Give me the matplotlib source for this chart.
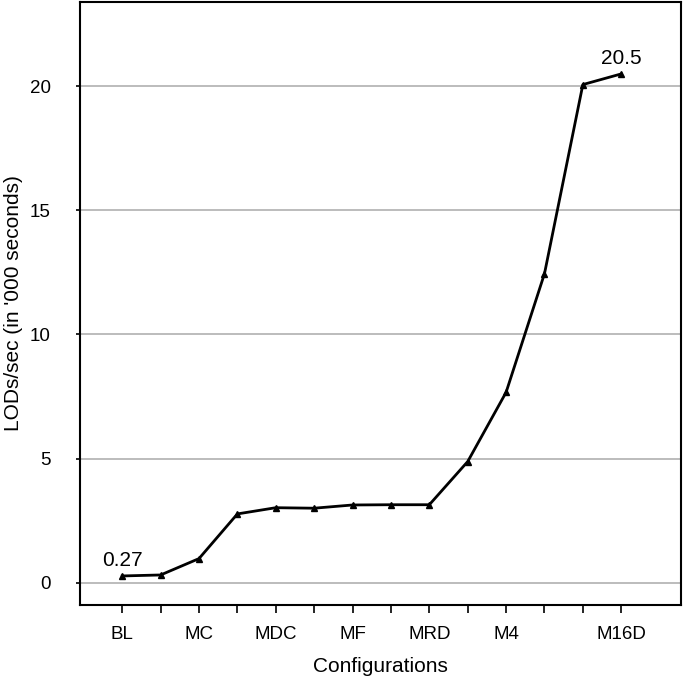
import matplotlib
matplotlib.use('Agg')
import matplotlib.pyplot as plt

# LODs/sec per configuration
positions = list(range(14))
lods = [0.27, 0.31, 0.97, 2.77, 3.02, 3.0, 3.13, 3.14, 3.14, 4.88, 7.67, 12.45, 20.07, 20.5]
tick_labels = ['BL', '', 'MC', '', 'MDC', '', 'MF', '', 'MRD', '', 'M4', '', '', 'M16D']

plt.rcParams['font.family'] = ['Liberation Sans', 'DejaVu Sans']

fig = plt.figure(figsize=(6.85, 6.9), dpi=100)
ax = fig.add_axes([0.1168, 0.1232, 0.877, 0.874])

ax.plot(positions, lods, color='black', linewidth=2, marker='^', markersize=5)
ax.yaxis.grid(True, color='#b0b0b0', linewidth=1.2)
ax.set_axisbelow(True)

ax.set_xlim(-1.1, 14.55)
ax.set_ylim(-0.9, 23.4)
ax.set_yticks([0, 5, 10, 15, 20])
ax.set_xticks(positions)
ax.set_xticklabels(tick_labels)
ax.tick_params(axis='both', labelsize=13.5, color='black', width=1.2)
ax.tick_params(axis='x', length=6, pad=9)
ax.tick_params(axis='y', length=3, pad=18)

ax.annotate('0.27', (positions[0], lods[0]), xytext=(0, 7), textcoords='offset points',
            ha='center', fontsize=15)
ax.annotate('20.5', (positions[-1], lods[-1]), xytext=(0, 7), textcoords='offset points',
            ha='center', fontsize=15)

ax.set_xlabel('Configurations', fontsize=15, labelpad=10)
ax.set_ylabel("LODs/sec (in '000 seconds)", fontsize=15)
ax.yaxis.set_label_coords(-0.095, 0.5)

for s in ax.spines.values():
    s.set_linewidth(1.5)

fig.savefig('out.png', dpi=100)
